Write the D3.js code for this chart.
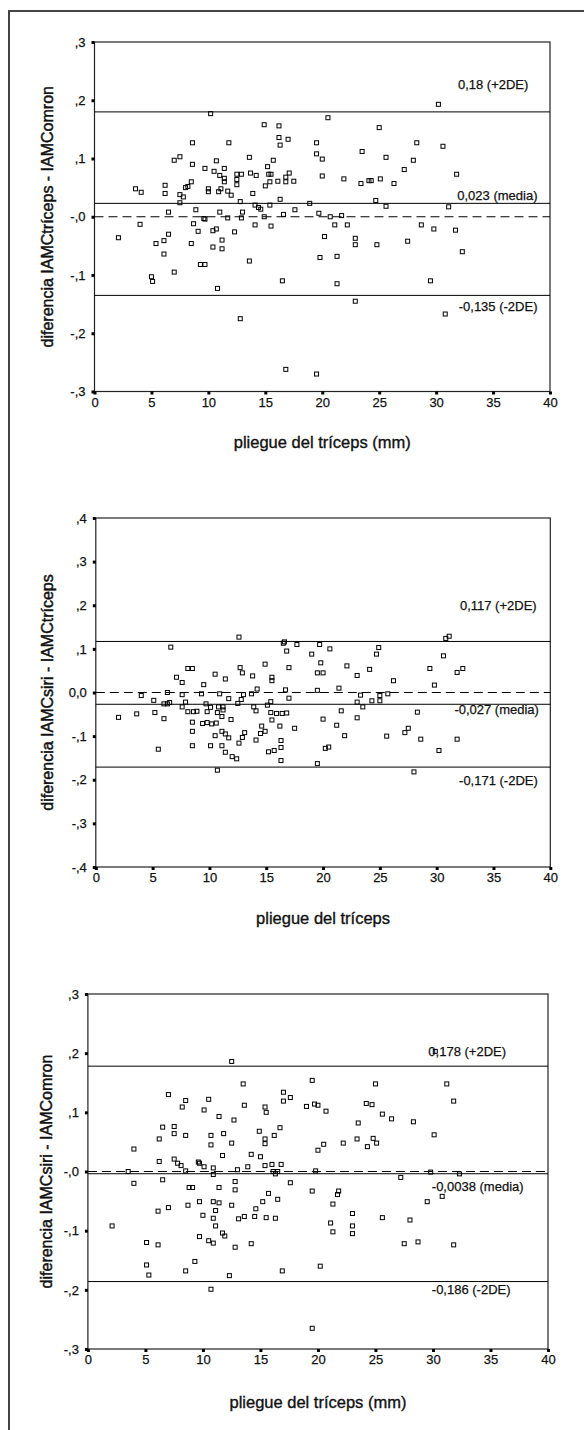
<!DOCTYPE html>
<html>
<head>
<meta charset="utf-8">
<script src="https://cdn.jsdelivr.net/npm/d3@7"></script>
<style>
  body { margin: 0; background: #fff; }
  text { font-family: Arial, "Liberation Sans", sans-serif; fill: #111; stroke: #111; stroke-width: 0.25px; }
</style>
</head>
<body>
<script>
// x axis: pliegue del tríceps (mm)
const xTicks = [0, 5, 10, 15, 20, 25, 30, 35, 40];

// panel 1 : IAMCtríceps - IAMComron
const yTicks1 = [0.3, 0.2, 0.1, 0, -0.1, -0.2, -0.3];
const yTickLabels1 = [",3", ",2", ",1", "-,0", "-,1", "-,2", "-,3"];
const refLines1 = [0.18, 0.023, -0.135];
const refLabels1 = ["0,18 (+2DE)", "0,023 (media)", "-0,135 (-2DE)"];
const points1 = [
  [30.2,.193],[10.2,.177],[14.9,.158],[16.2,.156],[20.5,.170],[25.0,.153],[16.2,.136],[17.0,.133],[16.3,.123],
  [8.6,.127],[11.8,.127],[19.5,.127],[28.3,.127],[30.6,.121],[23.5,.112],[7.5,.103],[7.0,.097],[13.6,.102],
  [15.7,.097],[19.5,.108],[20.0,.099],[25.6,.102],[28.0,.097],[10.7,.096],
  [8.6,.090],[9.7,.083],[10.5,.078],[11.4,.083],[11.0,.071],[11.4,.066],[11.4,.060],[12.5,.073],[12.9,.073],
  [12.5,.064],[12.5,.055],[13.7,.075],[14.2,.071],[15.2,.086],[15.3,.073],[15.5,.073],[15.4,.060],[16.1,.061],
  [15.0,.053],[16.8,.068],[17.1,.075],[16.8,.060],[17.5,.061],[20.0,.070],[21.9,.065],[23.4,.057],[24.1,.062],
  [24.3,.062],[25.1,.065],[26.3,.057],[27.2,.081],[31.8,.073],
  [3.6,.048],[4.1,.042],[6.2,.054],[6.2,.040],[8.0,.050],[8.2,.052],[8.5,.060],[7.5,.038],[7.8,.034],[7.5,.024],
  [10.0,.048],[10.0,.043],[10.9,.043],[11.1,.048],[11.7,.044],[12.0,.037],[13.9,.040],[12.8,.026],[16.3,.030],
  [14.1,.020],[14.4,.016],[14.6,.013],[15.4,.020],[18.9,.023],[24.7,.028],[25.6,.018],[31.1,.017],[17.6,.012],
  [8.9,.012],[6.5,.008],[11.0,.008],[13.0,.008],[16.6,.004],[19.7,.006],[20.7,.000],[21.7,.002],[9.6,-.003],
  [9.7,-.004],[11.7,-.002],[12.9,-.002],[14.9,.000],
  [4.0,-.013],[8.7,-.012],[14.1,-.014],[15.5,-.016],[21.1,-.014],[22.2,-.014],[28.7,-.014],[29.8,-.021],
  [31.7,-.023],[9.1,-.025],[10.4,-.024],[10.7,-.021],[12.3,-.026],[6.5,-.030],[2.1,-.036],[20.2,-.034],
  [22.9,-.037],[6.1,-.041],[5.4,-.046],[8.5,-.046],[11.2,-.040],[10.4,-.052],[11.2,-.055],[22.9,-.048],
  [24.8,-.048],[27.5,-.042],[6.1,-.064],[32.3,-.060],[19.8,-.070],[21.3,-.068],[13.6,-.076],[9.3,-.082],
  [9.7,-.082],[7.0,-.095],[5.0,-.103],[5.1,-.111],[16.5,-.110],[29.5,-.110],[21.3,-.115],[10.8,-.123],
  [22.9,-.145],[30.8,-.167],[12.8,-.175],[16.8,-.262],[19.5,-.270]
];

// panel 2 : IAMCsiri - IAMCtríceps
const yTicks2 = [0.4, 0.3, 0.2, 0.1, 0, -0.1, -0.2, -0.3, -0.4];
const yTickLabels2 = [",4", ",3", ",2", ",1", "0,0", "-,1", "-,2", "-,3", "-,4"];
const refLines2 = [0.117, -0.027, -0.171];
const refLabels2 = ["0,117 (+2DE)", "-0,027 (media)", "-0,171 (-2DE)"];
const points2 = [
  [12.6,.127],[6.6,.104],[16.5,.113],[16.6,.116],[16.8,.095],[17.7,.110],[19.7,.110],[20.6,.100],[19.0,.088],
  [19.8,.068],[24.9,.103],[24.7,.088],[30.8,.124],[31.1,.129],[30.6,.084],[14.9,.065],[22.1,.061],[8.1,.055],
  [8.5,.055],[12.7,.057],[17.0,.057],[24.1,.053],[29.4,.055],[32.3,.055],[31.8,.046],
  [7.1,.035],[7.6,.023],[10.5,.042],[11.4,.031],[12.9,.045],[13.8,.038],[15.5,.035],[15.5,.027],[19.5,.045],
  [20.0,.045],[23.0,.039],[26.2,.027],[9.5,.018],[29.8,.017],[6.3,.000],[4.0,-.007],[7.6,-.005],[9.3,-.003],
  [10.9,-.003],[13.0,-.005],[13.7,-.003],[14.2,.008],[16.7,.006],[19.5,.005],[21.4,.010],[23.3,-.006],
  [25.0,-.007],[25.7,-.003],
  [17.0,-.013],[15.4,-.021],[11.7,-.014],[12.8,-.016],[12.5,-.025],[5.1,-.018],[6.0,-.026],[6.3,-.026],
  [6.5,-.023],[7.9,-.022],[24.3,-.019],[25.0,-.019],[23.0,-.022],[23.5,-.033],[15.1,-.029],[13.9,-.033],
  [9.7,-.026],[10.1,-.034],[10.8,-.033],[11.2,-.033],[11.2,-.040],[7.6,-.033],[10.7,-.046],[14.1,-.042],
  [8.1,-.044],[8.6,-.044],[8.9,-.043],[9.8,-.044],[21.6,-.042],[28.3,-.045],[15.4,-.046],[15.9,-.048],
  [16.4,-.048],[16.8,-.047],
  [11.1,-.055],[2.0,-.057],[3.6,-.049],[5.2,-.046],[6.0,-.060],[11.9,-.062],[20.0,-.061],[23.0,-.058],
  [15.5,-.063],[8.5,-.068],[9.4,-.071],[9.8,-.069],[10.2,-.072],[10.6,-.070],[14.6,-.077],[16.2,-.077],
  [17.5,-.082],[21.2,-.075],[27.5,-.082],[27.2,-.092],[8.5,-.089],[11.1,-.089],[11.4,-.095],[10.5,-.099],
  [11.7,-.104],[13.1,-.092],[12.9,-.103],[12.6,-.116],[14.1,-.109],[14.5,-.094],[14.9,-.089],[16.3,-.110],
  [16.3,-.126],[15.2,-.136],[15.7,-.133],[21.9,-.099],[25.6,-.100],[28.6,-.107],[31.8,-.107],[5.5,-.130],
  [8.5,-.122],[10.1,-.122],[11.1,-.122],[11.4,-.137],[12.0,-.147],[12.4,-.152],[16.3,-.156],[20.2,-.128],
  [20.5,-.125],[30.2,-.133],[19.5,-.163],[10.7,-.178],[28.0,-.182]
];

// panel 3 : IAMCsiri - IAMComron
const yTicks3 = [0.3, 0.2, 0.1, 0, -0.1, -0.2, -0.3];
const yTickLabels3 = [",3", ",2", ",1", "-,0", "-,1", "-,2", "-,3"];
const refLines3 = [0.178, -0.0038, -0.186];
const refLabels3 = ["0,178 (+2DE)", "-0,0038 (media)", "-0,186 (-2DE)"];
const points3 = [
  [12.5,.186],[30.2,.203],[19.5,.154],[13.5,.148],[25.0,.148],[31.2,.148],[7.0,.130],[17.0,.134],[17.6,.125],
  [17.0,.119],[8.5,.120],[10.5,.122],[31.8,.119],[8.2,.109],[13.6,.112],[15.4,.109],[15.5,.100],[19.0,.110],
  [19.7,.114],[20.0,.112],[20.7,.102],[24.2,.115],[24.7,.113],[10.1,.104],[11.4,.093],[12.7,.087],[25.6,.097],
  [26.4,.089],[28.3,.084],
  [23.5,.082],[30.1,.062],[6.5,.075],[7.5,.076],[7.5,.064],[8.5,.061],[6.2,.055],[10.7,.061],[10.7,.045],
  [11.8,.064],[12.5,.048],[11.7,.027],[14.9,.068],[15.4,.055],[15.4,.047],[16.2,.061],[16.7,.074],[14.2,.029],
  [15.0,.025],[20.0,.036],[20.5,.046],[22.2,.048],[23.4,.055],[24.8,.056],[25.1,.048],[24.3,.042],[4.0,.038],
  [6.2,.017],[7.5,.021],[7.8,.014],[8.1,.010],[8.5,.001],[9.6,.016],[9.7,.014],[10.1,.008],[10.9,.006],
  [10.9,-.005],[13.0,.003],[13.9,.008],[15.4,.010],[16.0,.012],[16.8,.012],[16.1,.000],[16.5,.000],[16.3,-.004],
  [3.5,.000],[19.8,.001],[29.8,-.001],[32.3,-.004],[27.2,-.010],
  [4.0,-.020],[6.5,-.014],[12.8,-.017],[17.6,-.019],[8.8,-.027],[9.1,-.027],[11.4,-.027],[12.8,-.031],
  [19.5,-.033],[21.8,-.033],[21.7,-.039],[15.7,-.037],[16.5,-.047],[15.2,-.051],[29.5,-.051],[30.8,-.042],
  [9.7,-.051],[10.9,-.051],[11.4,-.053],[8.7,-.057],[12.5,-.057],[21.3,-.055],[14.6,-.063],[7.0,-.061],
  [6.1,-.067],[11.1,-.066],[23.0,-.071],[10.0,-.074],[10.9,-.079],[13.1,-.080],[13.6,-.076],[14.5,-.076],
  [15.5,-.078],[16.3,-.079],[25.6,-.078],[28.0,-.082],[11.1,-.092],[21.1,-.087],[23.0,-.092],[2.1,-.092],
  [21.3,-.102],[23.0,-.105],[11.7,-.104],[11.9,-.109],[9.7,-.110],[10.5,-.117],[10.9,-.121],[5.1,-.120],
  [6.1,-.124],[12.8,-.128],[14.2,-.122],[27.5,-.122],[28.7,-.119],[31.8,-.124],[5.1,-.158],[5.3,-.175],
  [9.3,-.152],[8.5,-.168],[12.3,-.176],[16.9,-.168],[20.2,-.160],[10.7,-.199],[19.5,-.265]
];

var svg = d3.select("body").append("svg")
  .attr("width", 584)
  .attr("height", 1430);

// outer frame of the figure (runs off the right / bottom edge)
svg.append("rect")
  .attr("x", 9).attr("y", 11)
  .attr("width", 620).attr("height", 1440)
  .attr("fill", "none")
  .attr("stroke", "#444")
  .attr("stroke-width", 2);

// layout of each panel, positions only
var panels = [
  {top: 42, bottom: 391.5, left: 94.5, right: 550, yDomain: [-0.3, 0.3],
   ticks: yTicks1, tickLabels: yTickLabels1, lines: refLines1, labels: refLabels1, points: points1,
   yTitle: "diferencia IAMCtríceps - IAMComron", xTitle: "pliegue del tríceps (mm)",
   yTitleX: 47, xTitleY: 448,
   labelX: [38.1, 38.9, 38.9], labelDy: [-23, -3, 16], anchor: "end"},
  {top: 518, bottom: 867, left: 95.8, right: 550.3, yDomain: [-0.4, 0.4],
   ticks: yTicks2, tickLabels: yTickLabels2, lines: refLines2, labels: refLabels2, points: points2,
   yTitle: "diferencia IAMCsiri - IAMCtríceps", xTitle: "pliegue del tríceps",
   yTitleX: 47, xTitleY: 924,
   labelX: [38.8, 39.0, 38.9], labelDy: [-31, 10, 18], anchor: "end"},
  {top: 994, bottom: 1349, left: 87.9, right: 548, yDomain: [-0.3, 0.3],
   ticks: yTicks3, tickLabels: yTickLabels3, lines: refLines3, labels: refLabels3, points: points3,
   yTitle: "diferencia IAMCsiri - IAMComron", xTitle: "pliegue del tríceps (mm)",
   yTitleX: 46, xTitleY: 1408,
   labelX: [29.6, 29.9, 29.9], labelDy: [-10, 17, 12], anchor: "start"}
];

panels.forEach(drawPanel);

function drawPanel(p) {
  var x = d3.scaleLinear().domain([0, 40]).range([p.left, p.right]);
  var y = d3.scaleLinear().domain(p.yDomain).range([p.bottom, p.top]);
  var g = svg.append("g");

  // plot box
  g.append("rect")
    .attr("x", p.left).attr("y", p.top)
    .attr("width", p.right - p.left).attr("height", p.bottom - p.top)
    .attr("fill", "none")
    .attr("stroke", "#222")
    .attr("stroke-width", 1.2);

  // y axis, small square ticks
  var ya = g.append("g")
    .attr("transform", `translate(${p.left},0)`)
    .call(d3.axisLeft(y).tickValues(p.ticks).tickSize(3).tickPadding(6)
      .tickFormat((d, i) => p.tickLabels[i]));
  ya.select(".domain").remove();
  ya.selectAll(".tick line").attr("stroke", "#000").attr("stroke-width", 3);
  ya.selectAll(".tick text").style("font-size", "13px").attr("fill", "#111");

  // x axis
  var xa = g.append("g")
    .attr("transform", `translate(0,${p.bottom})`)
    .call(d3.axisBottom(x).tickValues(xTicks).tickSize(3).tickPadding(3));
  xa.select(".domain").remove();
  xa.selectAll(".tick line").attr("stroke", "#000").attr("stroke-width", 3);
  xa.selectAll(".tick text").style("font-size", "13px").attr("fill", "#111");

  // zero line, dashed
  g.append("line")
    .attr("x1", p.left).attr("x2", p.right)
    .attr("y1", y(0)).attr("y2", y(0))
    .attr("stroke", "#000")
    .attr("stroke-dasharray", "9,5");

  // mean and +/- 2DE lines
  g.selectAll(".ref")
    .data(p.lines)
    .enter().append("line")
    .attr("class", "ref")
    .attr("x1", p.left).attr("x2", p.right)
    .attr("y1", d => y(d)).attr("y2", d => y(d))
    .attr("stroke", "#000");

  g.selectAll(".reflabel")
    .data(p.lines)
    .enter().append("text")
    .attr("class", "reflabel")
    .attr("x", (d, i) => x(p.labelX[i]))
    .attr("y", (d, i) => y(d) + p.labelDy[i])
    .attr("text-anchor", p.anchor)
    .style("font-size", "13px")
    .text((d, i) => p.labels[i]);

  // points
  g.selectAll(".pt")
    .data(p.points)
    .enter().append("rect")
    .attr("class", "pt")
    .attr("x", d => x(d[0]) - 2)
    .attr("y", d => y(d[1]) - 2)
    .attr("width", 4).attr("height", 4)
    .attr("fill", "none")
    .attr("stroke", "#000")
    .attr("stroke-width", 1);

  // axis titles
  g.append("text")
    .attr("transform", `translate(${p.yTitleX},${(p.top + p.bottom) / 2}) rotate(-90)`)
    .attr("text-anchor", "middle")
    .attr("dominant-baseline", "central")
    .style("font-size", "16px")
    .style("stroke-width", "0.45px")
    .text(p.yTitle);

  g.append("text")
    .attr("x", (p.left + p.right) / 2)
    .attr("y", p.xTitleY)
    .attr("text-anchor", "middle")
    .style("font-size", "16.5px")
    .style("stroke-width", "0.35px")
    .text(p.xTitle);
}
</script>
</body>
</html>
